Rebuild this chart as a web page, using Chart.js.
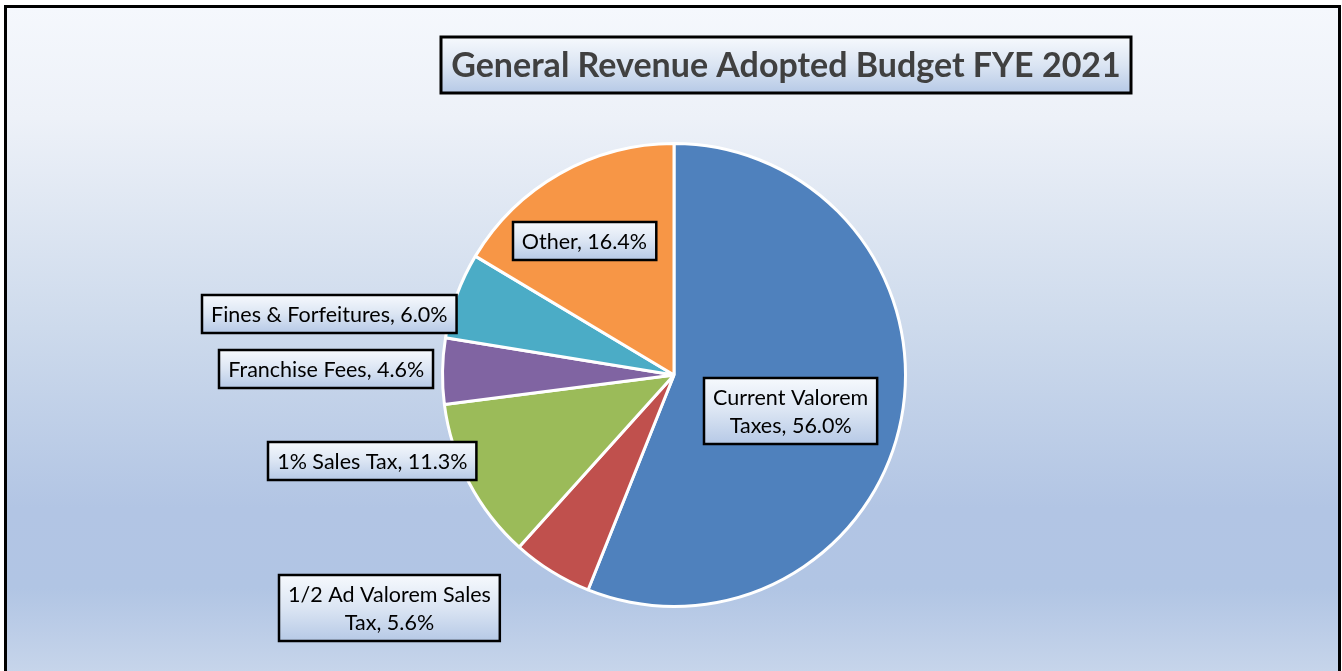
<!DOCTYPE html>
<html>
<head>
<meta charset="utf-8">
<script src="https://cdn.jsdelivr.net/npm/chart.js@4"></script>
<style>
  html, body { margin: 0; padding: 0; width: 1342px; height: 671px; overflow: hidden; background: #fff; }
  .frame {
    position: absolute; left: 4px; top: 5px; width: 1331px; height: 720px;
    border: 3px solid #000;
    background: linear-gradient(to bottom, #f5f8fd 0px, #edf1f8 110px, #cddaec 320px, #b2c5e4 500px, #b1c5e4 580px, #c8d6eb 670px, #d0dced 720px);
  }
  #wrap { position: absolute; left: 0; top: 0; width: 1342px; height: 671px; }
</style>
</head>
<body>
<div class="frame"></div>
<div id="wrap"><canvas id="pie"></canvas></div>
<script>
const titleText = 'General Revenue Adopted Budget FYE 2021';
const categories = ['Current Valorem Taxes', '1/2 Ad Valorem Sales Tax', '1% Sales Tax', 'Franchise Fees', 'Fines & Forfeitures', 'Other'];
const shares = [56.0, 5.6, 11.3, 4.6, 6.0, 16.4];
const labelLines = [
    ['Current Valorem', 'Taxes, 56.0%'],
    ['1/2 Ad Valorem Sales', 'Tax, 5.6%'],
    ['1% Sales Tax, 11.3%'],
    ['Franchise Fees, 4.6%'],
    ['Fines & Forfeitures, 6.0%'],
    ['Other, 16.4%']
];
const sliceColors = ['#4f81bd', '#c0504d', '#9bbb59', '#8064a2', '#4bacc6', '#f79646'];

// label box centres, in units of the pie radius from the pie centre
const labelOffsets = [[0.504, 0.156], [-1.229, 1.006], [-1.303, 0.370], [-1.502, -0.026], [-1.489, -0.262], [-0.387, -0.580]];

function boxGradient(ctx, y0, y1) {
    const g = ctx.createLinearGradient(0, y0, 0, y1);
    g.addColorStop(0, '#f6f9fd');
    g.addColorStop(0.5, '#dbe5f3');
    g.addColorStop(1, '#b6c9e6');
    return g;
}

const boxPlugin = {
    id: 'boxLabels',
    afterDraw(chart) {
        const ctx = chart.ctx;
        const arc = chart.getDatasetMeta(0).data[0];
        const cx = arc.x, cy = arc.y, r = arc.outerRadius;

        // title box
        ctx.save();
        ctx.font = 'bold 34px Lato, "Liberation Sans", sans-serif';
        ctx.textAlign = 'center';
        ctx.textBaseline = 'middle';
        const tx0 = 441, ty0 = 37, tw = 690, th = 56;
        ctx.fillStyle = boxGradient(ctx, ty0, ty0 + th);
        ctx.fillRect(tx0, ty0, tw, th);
        ctx.lineWidth = 3;
        ctx.strokeStyle = '#000';
        ctx.strokeRect(tx0, ty0, tw, th);
        ctx.fillStyle = '#404040';
        ctx.fillText(titleText, tx0 + tw / 2, ty0 + th / 2 + 1);
        ctx.restore();

        // data labels
        ctx.save();
        ctx.font = '21.5px Lato, "Liberation Sans", sans-serif';
        ctx.textAlign = 'center';
        ctx.textBaseline = 'middle';
        const lineH = 28;
        labelLines.forEach((lines, i) => {
            const px = cx + labelOffsets[i][0] * r;
            const py = cy + labelOffsets[i][1] * r;
            const w = Math.max(...lines.map(l => ctx.measureText(l).width)) + 18;
            const h = lines.length * lineH + 10;
            const x0 = Math.round(px - w / 2), y0 = Math.round(py - h / 2);
            ctx.fillStyle = boxGradient(ctx, y0, y0 + h);
            ctx.fillRect(x0, y0, w, h);
            ctx.lineWidth = 2.5;
            ctx.strokeStyle = '#000';
            ctx.strokeRect(x0, y0, w, h);
            ctx.fillStyle = '#000';
            lines.forEach((l, k) => {
                ctx.fillText(l, px, y0 + 5 + lineH * k + lineH / 2 + 1);
            });
        });
        ctx.restore();
    }
};

new Chart(document.getElementById('pie'), {
    type: 'pie',
    data: {
        labels: categories,
        datasets: [{
            data: shares,
            backgroundColor: sliceColors,
            borderColor: '#ffffff',
            borderWidth: 3
        }]
    },
    options: {
        responsive: true,
        maintainAspectRatio: false,
        animation: false,
        layout: { padding: { top: 142, bottom: 63, left: 6, right: 0 } },
        plugins: {
            legend: { display: false },
            tooltip: { enabled: false }
        }
    },
    plugins: [boxPlugin]
});
</script>
</body>
</html>
